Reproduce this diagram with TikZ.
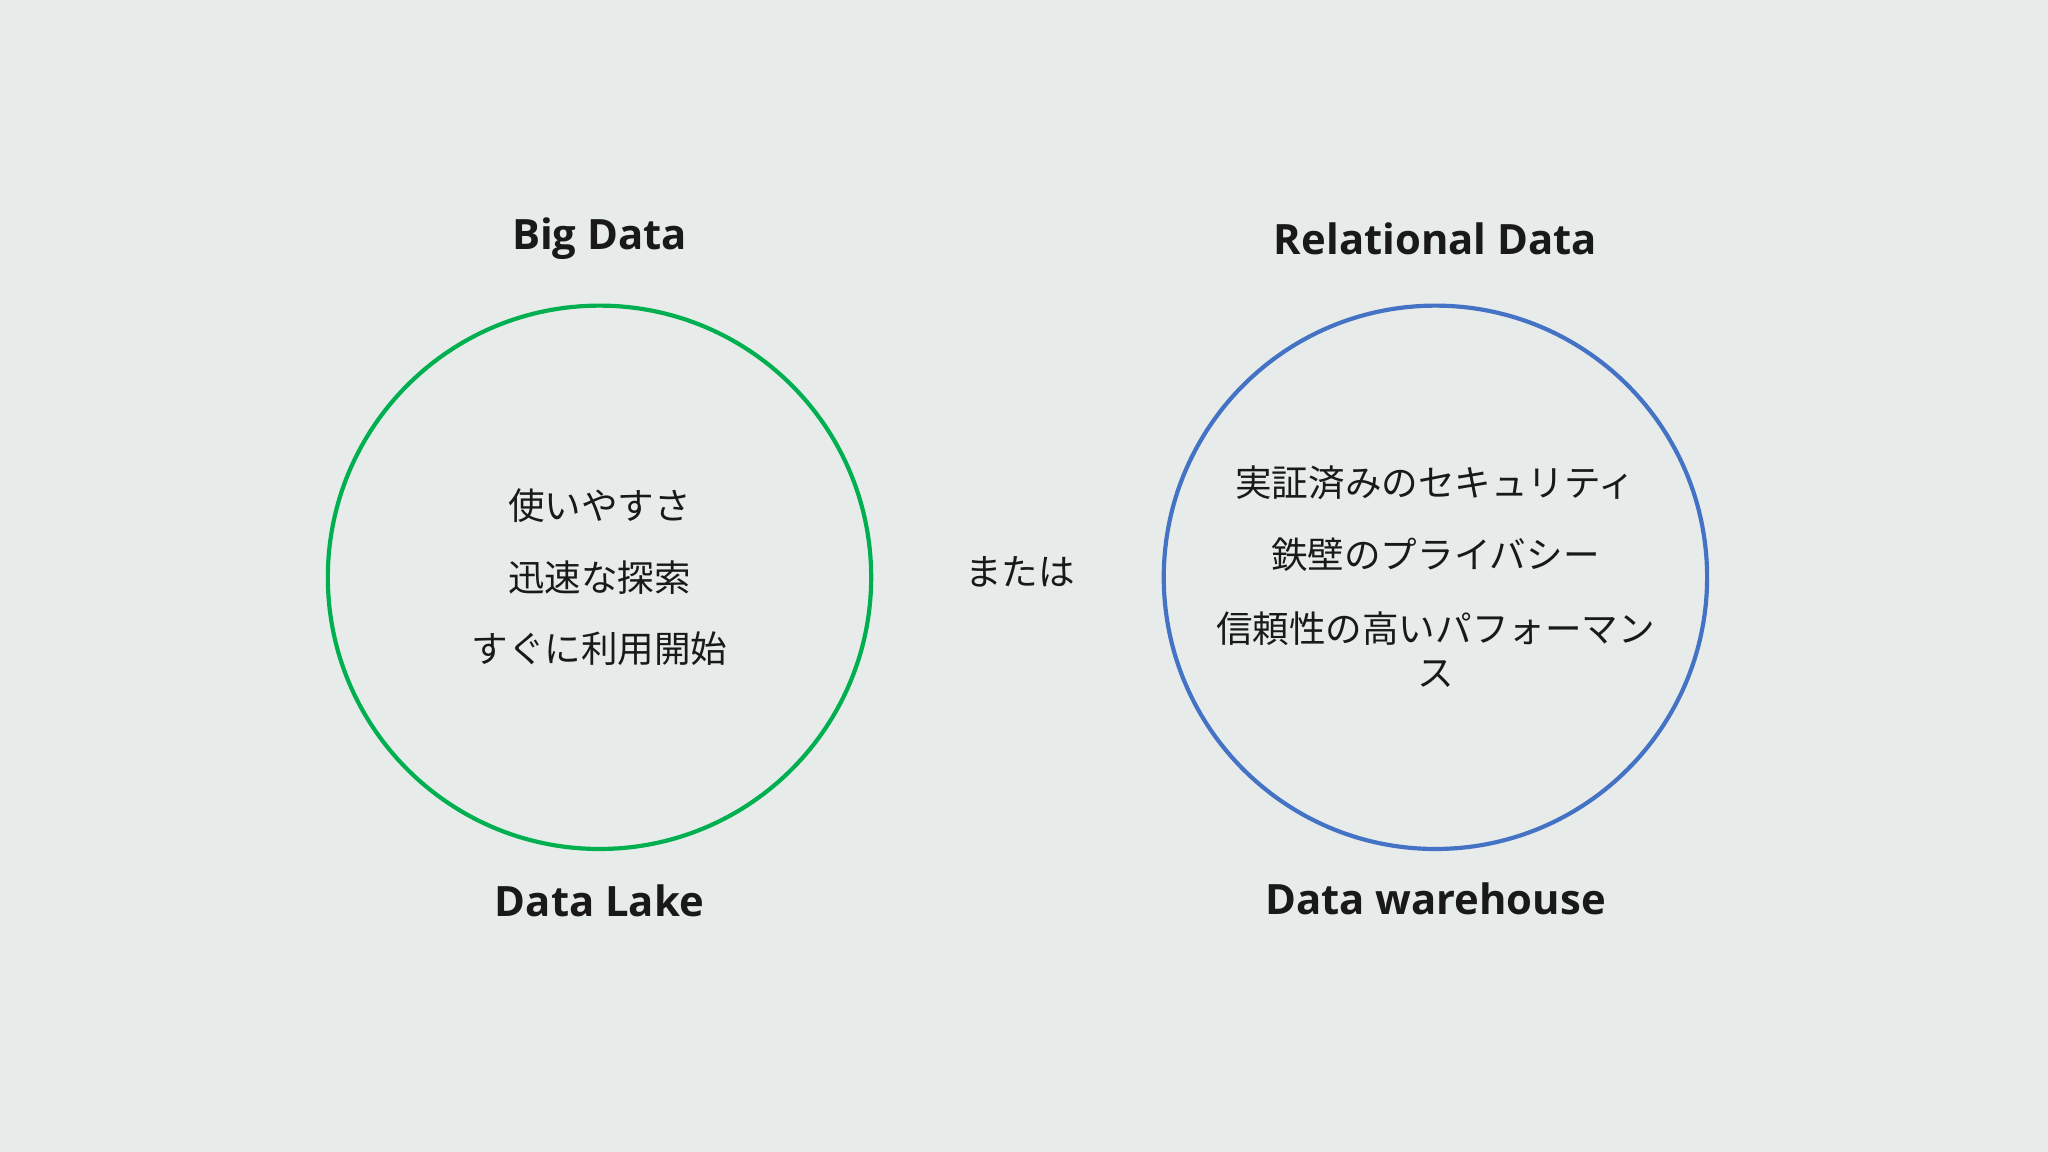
\documentclass[tikz,border=0pt]{standalone}
\usepackage{fontspec}
\setmainfont{Noto Sans CJK JP}
\newfontfamily\latinf{Open Sans}[FakeBold=0]
\definecolor{bgc}{HTML}{E7ECEA}
\definecolor{grn}{HTML}{00B050}
\definecolor{blu}{HTML}{4472C4}
\begin{document}
\begin{tikzpicture}[x=0.5pt,y=-0.5pt,
  title/.style={font=\latinf\fontsize{16}{18}\selectfont\bfseries, text=black!90},
  jp/.style={font=\fontsize{14}{17}\selectfont, text=black!90},
  ring/.style={line width=1.6pt}]
\fill[bgc] (0,0) rectangle (1568,882);
\useasboundingbox (0,0) rectangle (1568,882);
\draw[ring,grn] (459,442) circle[radius=208];
\draw[ring,blu] (1099,442) circle[radius=208];
\node[title] (bd) at (459,183) {Big Data};
\node[title] (dl) at (459,690) {Data Lake};
\node[title] (rd) at (1099,183) {Relational Data};
\node[title] (dw) at (1099,688) {Data warehouse};
\node[jp] (l1) at (459,387) {使いやすさ};
\node[jp] (l2) at (459,442) {迅速な探索};
\node[jp] (l3) at (459,497) {すぐに利用開始};
\node[jp] (or) at (781,438) {または};
\node[jp] (r1) at (1099,370) {実証済みのセキュリティ};
\node[jp] (r2) at (1099,425) {鉄壁のプライバシー};
\node[jp] (r3) at (1099,481) {信頼性の高いパフォーマン};
\node[jp] (r4) at (1099,516) {ス};
\end{tikzpicture}
\end{document}
